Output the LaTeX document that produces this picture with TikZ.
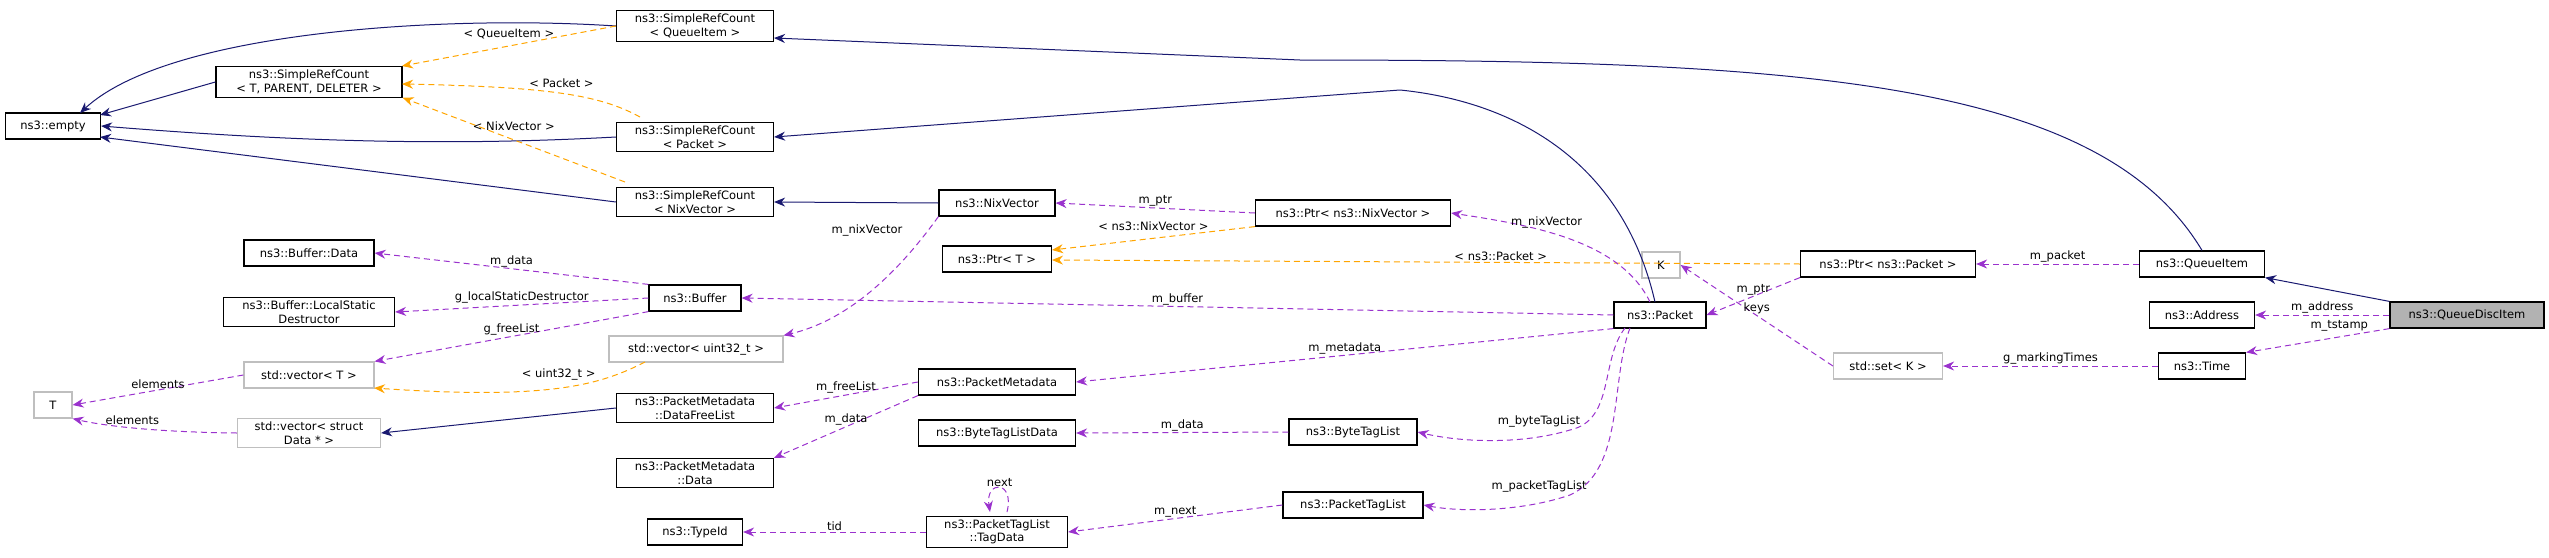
\documentclass[tikz,border=0pt]{standalone}
\usepackage{fontspec}
\setmainfont{DejaVu Sans}
\usetikzlibrary{arrows.meta}
\definecolor{navy}{HTML}{191970}
\definecolor{usecol}{HTML}{9A32CD}
\definecolor{tplcol}{HTML}{FFA500}

\begin{document}
\begin{tikzpicture}[x=1pt,y=-1pt,>={Stealth[length=11pt,width=9pt]},
box/.style={rectangle, draw=black, line width=1.2pt, fill=white, align=center, minimum height=26pt, inner xsep=3pt, font=\fontsize{11.5}{13.5}\selectfont},
gbox/.style={box, draw=black!25},
cur/.style={box, fill=black!30},
inh/.style={->, navy, line width=1pt},
use/.style={->, usecol, dashed, dash pattern=on 6pt off 4pt, line width=1pt},
tpl/.style={->, tplcol, dashed, dash pattern=on 6pt off 4pt, line width=1pt},
lbl/.style={font=\fontsize{11.5}{13.5}\selectfont, text=black, inner sep=1pt}]
\useasboundingbox (0,0) rectangle (2549,557);

\draw (53,126) node[box, minimum width=95pt] (Empty) {ns3::empty};
\draw (309,82) node[box, minimum width=186pt] (SrcT) {ns3::SimpleRefCount\\ < T, PARENT, DELETER >};
\draw (695,26) node[box, minimum width=157pt] (SrcQI) {ns3::SimpleRefCount\\ < QueueItem >};
\draw (695,137) node[box, minimum width=157pt] (SrcPkt) {ns3::SimpleRefCount\\ < Packet >};
\draw (695,202) node[box, minimum width=157pt] (SrcNix) {ns3::SimpleRefCount\\ < NixVector >};
\draw (309,253) node[box, minimum width=130pt] (BufData) {ns3::Buffer::Data};
\draw (309,312) node[box, minimum width=171pt] (BufLSD) {ns3::Buffer::LocalStatic\\ Destructor};
\draw (695,298) node[box, minimum width=92pt] (Buf) {ns3::Buffer};
\draw (309,375) node[gbox, minimum width=130pt] (VecT) {std::vector< T >};
\draw (696,349) node[gbox, minimum width=174pt] (VecU) {std::vector< uint32\_t >};
\draw (53,405) node[gbox, minimum width=38pt] (T) {T};
\draw (309,433) node[gbox, minimum width=143pt] (VecS) {std::vector< struct\\ Data * >};
\draw (695,408) node[box, minimum width=157pt] (PMFree) {ns3::PacketMetadata\\ ::DataFreeList};
\draw (695,473) node[box, minimum width=157pt] (PMData) {ns3::PacketMetadata\\ ::Data};
\draw (695,532) node[box, minimum width=95pt] (TypeId) {ns3::TypeId};
\draw (997,203) node[box, minimum width=116pt] (Nix) {ns3::NixVector};
\draw (997,259) node[box, minimum width=109pt] (PtrT) {ns3::Ptr< T >};
\draw (1353,213) node[box, minimum width=195pt] (PtrNix) {ns3::Ptr< ns3::NixVector >};
\draw (1660,315) node[box, minimum width=92pt] (Pkt) {ns3::Packet};
\draw (997,382) node[box, minimum width=157pt] (PM) {ns3::PacketMetadata};
\draw (997,433) node[box, minimum width=157pt] (BTLD) {ns3::ByteTagListData};
\draw (1353,432) node[box, minimum width=128pt] (BTL) {ns3::ByteTagList};
\draw (1353,505) node[box, minimum width=140pt] (PTL) {ns3::PacketTagList};
\draw (997,532) node[box, minimum width=141pt] (TagData) {ns3::PacketTagList\\ ::TagData};
\draw (1661,265) node[gbox, minimum width=38pt] (K) {K};
\draw (1888,264) node[box, minimum width=175pt] (PtrPkt) {ns3::Ptr< ns3::Packet >};
\draw (2202,264) node[box, minimum width=125pt] (QI) {ns3::QueueItem};
\draw (2202,315) node[box, minimum width=105pt] (Addr) {ns3::Address};
\draw (2467,315) node[cur, minimum width=154pt] (QDI) {ns3::QueueDiscItem};
\draw (2202,366) node[box, minimum width=87pt] (Time) {ns3::Time};
\draw (1888,366) node[gbox, minimum width=109pt] (SetK) {std::set< K >};

% inheritance
\draw[inh] (SrcT.west) -- (100,115);
\draw[inh] (SrcQI.west) .. controls (450,15) and (170,30) .. (80,113);
\draw[inh] (SrcPkt.west) .. controls (450,146) and (300,142) .. (Empty.east);
\draw[inh] (SrcNix.west) -- (100,137);
\draw[inh] (Nix.west) -- (SrcNix.east);
\draw[inh] (PMFree.west) -- (VecS.east);
\draw[inh] (QDI.north west) -- (QI.south east);
\draw[inh] (QI.north) .. controls (2100,80) and (1800,60) .. (1300,60) -- (774,38);
\draw[inh] (1655,302) .. controls (1620,150) and (1500,100) .. (1400,90) -- (SrcPkt.east);

% templates
\draw[tpl] (SrcQI.west) -- node[lbl, above=6pt] {< QueueItem >} (402,66);
\draw[tpl] (640,117) .. controls (600,95) and (550,87) .. node[lbl, above=4pt] {< Packet >} (402,84);
\draw[tpl] (625,182) -- node[lbl, above=8pt] {< NixVector >} (SrcT.south east);
\draw[tpl] (645,362) .. controls (600,385) and (550,400) .. node[lbl, above=6pt] {< uint32\_t >} (374,388);
\draw[tpl] (PtrNix.south west) -- node[lbl, above=6pt] {< ns3::NixVector >} (1052,250);
\draw[tpl] (PtrPkt.west) -- node[lbl, above, pos=0.4] {< ns3::Packet >} (1052,260);

% members
\draw[use] (Buf.north west) -- node[lbl, above] {m\_data} (BufData.east);
\draw[use] (Buf.west) -- node[lbl, above] {g\_localStaticDestructor} (BufLSD.east);
\draw[use] (Buf.south west) -- node[lbl, above] {g\_freeList} (VecT.north east);
\draw[use] (VecT.west) -- node[lbl, above] {elements} (T.east);
\draw[use] (VecS.west) .. controls (150,432) and (100,425) .. node[lbl, above=2pt] {elements} (T.south east);
\draw[use] (Nix.south west) .. controls (900,270) and (850,320) .. node[lbl, above left=10pt, pos=0.2] {m\_nixVector} (VecU.north east);
\draw[use] (PtrNix.west) -- node[lbl, above] {m\_ptr} (Nix.east);
\draw[use] (1650,302) .. controls (1620,240) and (1530,225) .. node[lbl, above=2pt, pos=0.6] {m\_nixVector} (PtrNix.east);
\draw[use] (Pkt.west) -- node[lbl, above] {m\_buffer} (Buf.east);
\draw[use] (Pkt.south west) -- node[lbl, above] {m\_metadata} (PM.east);
\draw[use] (PM.west) -- node[lbl, above] {m\_freeList} (PMFree.east);
\draw[use] (PM.south west) -- node[lbl, above] {m\_data} (PMData.north east);
\draw[use] (BTL.west) -- node[lbl, above] {m\_data} (BTLD.east);
\draw[use] (1625,328) .. controls (1600,360) and (1615,420) .. (1570,430) .. controls (1520,445) and (1460,442) .. node[lbl, above=8pt, pos=0.2] {m\_byteTagList} (BTL.east);
\draw[use] (1630,328) .. controls (1610,380) and (1625,470) .. (1570,495) .. controls (1520,512) and (1460,512) .. node[lbl, above=10pt, pos=0.2] {m\_packetTagList} (PTL.east);
\draw[use] (PTL.west) -- node[lbl, above] {m\_next} (TagData.east);
\draw[use] (1007,512) .. controls (1015,480) and (985,480) .. node[lbl, above] {next} (990,512);
\draw[use] (TagData.west) -- node[lbl, above] {tid} (TypeId.east);
\draw[use] (SetK.west) -- node[lbl, above] {keys} (K.east);
\draw[use] (Time.west) -- node[lbl, above] {g\_markingTimes} (SetK.east);
\draw[use] (QDI.south west) -- node[lbl, above=4pt, pos=0.35] {m\_tstamp} (Time.north east);
\draw[use] (QDI.west) -- node[lbl, above] {m\_address} (Addr.east);
\draw[use] (QI.west) -- node[lbl, above] {m\_packet} (PtrPkt.east);
\draw[use] (PtrPkt.south west) -- node[lbl, above] {m\_ptr} (Pkt.east);
\end{tikzpicture}
\end{document}
